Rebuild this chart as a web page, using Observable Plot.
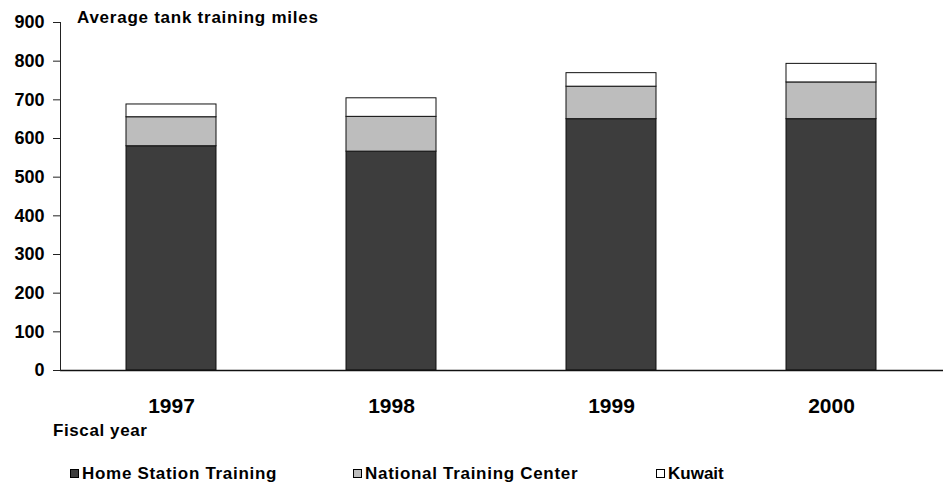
<!DOCTYPE html>
<html>
<head>
<meta charset="utf-8">
<script src="https://cdn.jsdelivr.net/npm/d3@7"></script>
<script src="https://cdn.jsdelivr.net/npm/@observablehq/plot@0.6"></script>
<style>
  html, body { margin: 0; padding: 0; background: #fff; }
  #wrap { position: relative; width: 943px; height: 485px; font-family: "Liberation Sans", Arial, Helvetica, sans-serif; font-weight: bold; color: #000; }
  .lbl { position: absolute; font-size: 17px; line-height: 17px; white-space: nowrap; letter-spacing: 0.6px; }
  .sw { position: absolute; width: 9px; height: 9px; border: 1px solid #000; box-sizing: border-box; }
</style>
</head>
<body>
<div id="wrap"></div>
<script>
const years = ["1997", "1998", "1999", "2000"];
const series = ["Home Station Training", "National Training Center", "Kuwait"];
const homeStation = [580, 566, 650, 650];
const nationalTrainingCenter = [75, 90, 84, 95];
const kuwait = [33, 48, 35, 48];
const yTicks = [0, 100, 200, 300, 400, 500, 600, 700, 800, 900];
const fills = ["#3d3d3d", "#bdbdbd", "#ffffff"];

const values = [homeStation, nationalTrainingCenter, kuwait];
const data = [];
series.forEach((s, i) => years.forEach((y, j) => data.push({year: y, series: s, value: values[i][j]})));

const chart = Plot.plot({
  width: 943,
  height: 485,
  marginTop: 22,
  marginBottom: 115,
  marginLeft: 60,
  marginRight: 0,
  style: {fontFamily: "'Liberation Sans', Arial, sans-serif", fontWeight: "bold", color: "#000", background: "transparent"},
  x: {type: "band", domain: years, paddingInner: 0.59, paddingOuter: 0.295, label: null},
  y: {domain: [0, 900], label: null},
  color: {domain: series, range: fills},
  marks: [
    Plot.barY(data, {x: "year", y: "value", fill: "series", order: series, stroke: "#111", strokeWidth: 1}),
    Plot.ruleY([0], {stroke: "#111", strokeWidth: 1.5}),
    Plot.frame({anchor: "left", stroke: "#222"}),
    Plot.axisY({ticks: yTicks, tickSize: 7, tickPadding: 9, fontSize: 18, label: null, stroke: "#222"}),
    Plot.axisX({tickSize: 0, tickPadding: 28, fontSize: 21, label: null})
  ]
});

const wrap = document.getElementById("wrap");
wrap.appendChild(chart);

function addText(txt, left, top, extra) {
  const d = document.createElement("div");
  d.className = "lbl";
  d.textContent = txt;
  d.style.left = left + "px";
  d.style.top = top + "px";
  if (extra) Object.assign(d.style, extra);
  wrap.appendChild(d);
}
function addSwatch(left, top, color) {
  const s = document.createElement("div");
  s.className = "sw";
  s.style.left = left + "px";
  s.style.top = top + "px";
  s.style.background = color;
  wrap.appendChild(s);
}

addText("Average tank training miles", 77, 9, {letterSpacing: "0.75px"});
addText("Fiscal year", 53, 422);

const legendX = [70, 353, 656];
series.forEach((s, i) => {
  addSwatch(legendX[i], 469, fills[i]);
  addText(s, legendX[i] + 12, 465, {letterSpacing: i === 2 ? "0px" : "0.7px"});
});
</script>
</body>
</html>
